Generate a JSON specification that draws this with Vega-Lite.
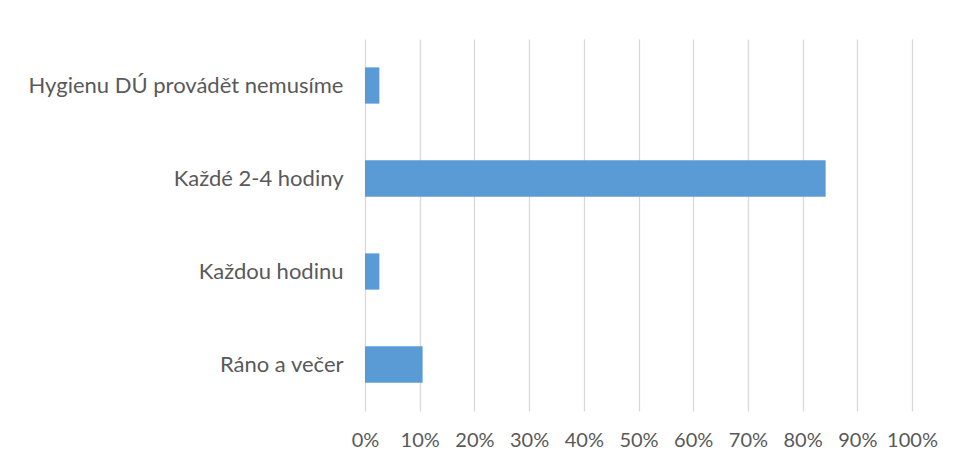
{
  "$schema": "https://vega.github.io/schema/vega-lite/v6.json",
  "autosize": {"type": "none"},
  "padding": {"left": 365, "top": 39, "right": 45, "bottom": 54},
  "width": 547,
  "height": 372,
  "background": "white",
  "data": {
    "values": [
      {"kategorie": "Hygienu DÚ provádět nemusíme", "podil": 0.0263},
      {"kategorie": "Každé 2-4 hodiny", "podil": 0.8421},
      {"kategorie": "Každou hodinu", "podil": 0.0263},
      {"kategorie": "Ráno a večer", "podil": 0.1053}
    ]
  },
  "mark": {"type": "bar", "color": "#5b9bd5"},
  "encoding": {
    "y": {
      "field": "kategorie",
      "type": "nominal",
      "sort": null,
      "title": null,
      "scale": {"paddingInner": 0.61, "paddingOuter": 0.305},
      "axis": {
        "domain": false,
        "ticks": false,
        "grid": false,
        "labelFont": "Lato",
        "labelFontSize": 22,
        "labelColor": "#595959",
        "labelPadding": 22,
        "labelLimit": 400
      }
    },
    "x": {
      "field": "podil",
      "type": "quantitative",
      "title": null,
      "scale": {"domain": [0, 1], "nice": false},
      "axis": {
        "format": ".0%",
        "values": [0, 0.1, 0.2, 0.3, 0.4, 0.5, 0.6, 0.7, 0.8, 0.9, 1],
        "domain": false,
        "ticks": false,
        "grid": true,
        "gridColor": "#d9d9d9",
        "gridWidth": 1.3,
        "labelFont": "Lato",
        "labelFontSize": 20,
        "labelColor": "#595959",
        "labelPadding": 19,
        "labelFlush": false
      }
    }
  },
  "config": {"view": {"stroke": null}}
}
